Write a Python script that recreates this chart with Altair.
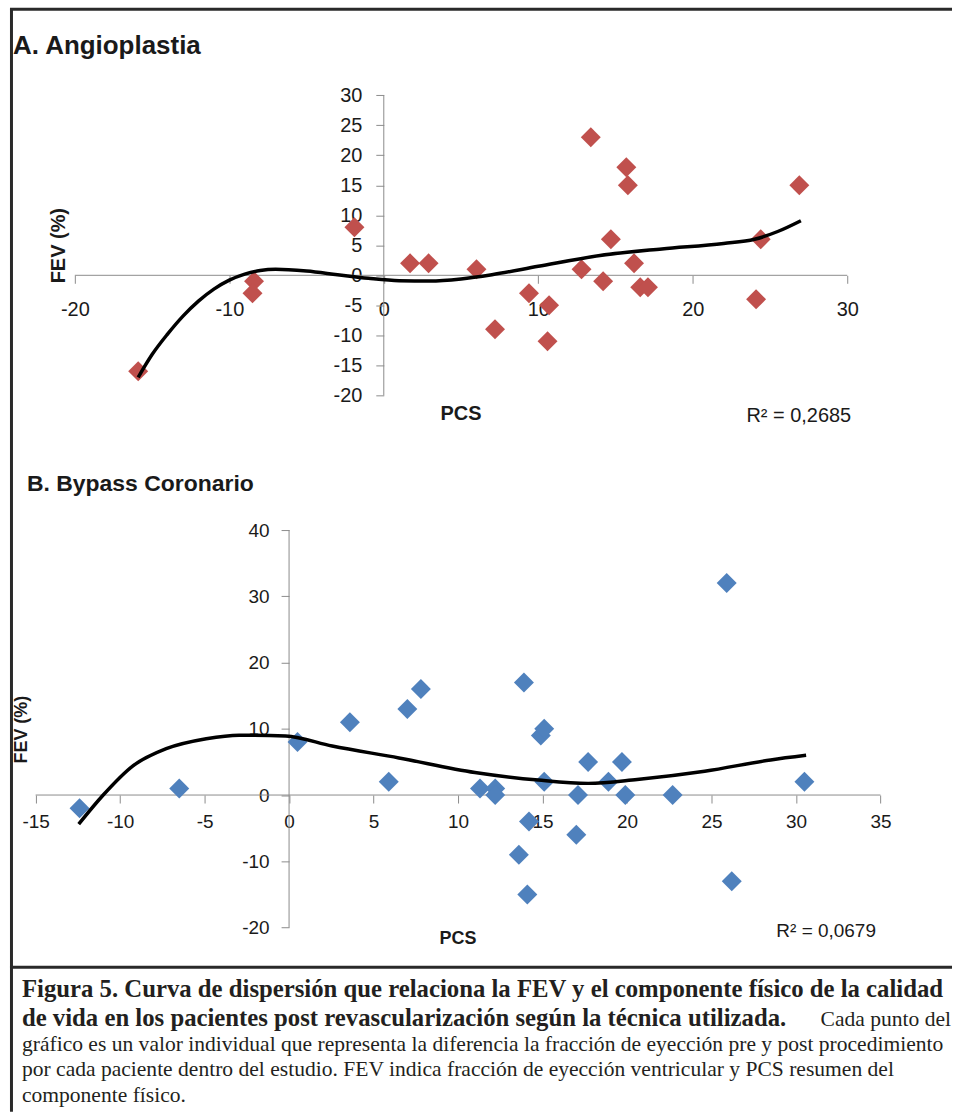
import altair as alt
import pandas as pd

# ---------------- data ----------------
# Panel A: Angioplastia
a_pcs = [-15.9, -8.4, -8.5, -1.9, 1.7, 2.9, 6.0, 7.2, 9.4, 10.7, 10.6, 12.8, 13.4,
         14.2, 14.7, 15.7, 15.8, 16.2, 16.6, 17.1, 24.1, 24.4, 26.9]
a_fev = [-16, -1, -3, 8, 2, 2, 1, -9, -3, -5, -11, 1, 23,
         -1, 6, 18, 15, 2, -2, -2, -4, 6, 15]
# trend line A
a_trend_x = [-15.9, -15.0, -14.0, -13.0, -12.0, -11.0, -10.0, -9.0, -8.0, -7.0,
             -5.0, -3.0, -1.0, 1.0, 3.0, 5.0, 7.0, 10.0, 14.0, 18.0, 22.0, 24.0,
             25.5, 27.0]
a_trend_y = [-17.0, -13.2, -9.8, -6.8, -4.3, -2.3, -0.8, 0.2, 0.8, 1.0,
             0.7, 0.1, -0.5, -0.9, -0.95, -0.6, 0.1, 1.5, 3.3, 4.4, 5.3, 6.0,
             7.3, 9.1]

# Panel B: Bypass Coronario
b_pcs = [-12.4, -6.5, 0.5, 3.6, 5.9, 7.0, 7.8, 11.3, 12.2, 12.2, 13.9, 13.6, 14.2,
         14.1, 14.9, 15.1, 15.1, 17.1, 17.0, 17.7, 18.9, 19.7, 19.9, 22.7, 25.9,
         26.2, 30.5]
b_fev = [-2, 1, 8, 11, 2, 13, 16, 1, 1, 0, 17, -9, -4,
         -15, 9, 10, 2, 0, -6, 5, 2, 5, 0, 0, 32,
         -13, 2]
b_trend_x = [-12.45, -11.0, -9.24, -7.27, -4.9, -2.95, -0.2, 2.55, 6.5, 11.0,
             14.75, 17.7, 20.6, 24.6, 28.5, 30.6]
b_trend_y = [-4.4, 0.0, 4.4, 7.0, 8.5, 9.04, 8.9, 7.4, 5.6, 3.4,
             2.26, 1.76, 2.36, 3.6, 5.3, 6.0]

a_xticks = [-20, -10, 0, 10, 20, 30]
a_yticks = [-20, -15, -10, -5, 0, 5, 10, 15, 20, 25, 30]
b_xticks = [-15, -10, -5, 0, 5, 10, 15, 20, 25, 30, 35]
b_yticks = [-20, -10, 0, 10, 20, 30, 40]

title_a = "A. Angioplastia"
title_b = "B. Bypass Coronario"
r2_a = "R² = 0,2685"
r2_b = "R² = 0,0679"

caption_bold_1 = "Figura 5. Curva de dispersión que relaciona la FEV y el componente físico de la calidad"
caption_bold_2 = "de vida en los pacientes post revascularización según la técnica utilizada."
caption_reg_2 = "Cada punto del"
caption_reg_3 = "gráfico es un valor individual que representa la diferencia la fracción de eyección pre y post procedimiento"
caption_reg_4 = "por cada paciente dentro del estudio. FEV indica fracción de eyección ventricular y PCS resumen del"
caption_reg_5 = "componente físico."

# ---------------- layout ----------------
W = 954
HA, HB, HC = 450, 515, 148
SANS = "Liberation Sans"
SERIF = "Liberation Serif"
AXIS_GRAY = "#8c8c8c"
TXT = "#1a1a1a"


def domain_from(p_lo, v_lo, p_hi, v_hi, total):
    k = (p_hi - p_lo) / (v_hi - v_lo)
    return [v_lo - p_lo / k, v_hi + (total - p_hi) / k], k


def panel(xs, ys, tx, ty, color, xticks, yticks, xpix, ypix, H,
          lab_size, xpad, ypad, title, title_xy, title_size,
          fev_xy, fev_size, pcs_xy, pcs_size, r2, r2_xy, r2_size):
    xdom, kx = domain_from(xpix[0], xticks[0], xpix[1], xticks[-1], W)
    k_y = (ypix[1] - ypix[0]) / (yticks[-1] - yticks[0])
    ydom = [yticks[0] - (H - ypix[1]) / k_y, yticks[-1] + ypix[0] / k_y]
    x0 = xpix[0] + (0 - xticks[0]) * kx
    y0 = ypix[1] - (0 - yticks[0]) * k_y

    xs_ = alt.Scale(domain=xdom, nice=False, zero=False)
    ys_ = alt.Scale(domain=ydom, nice=False, zero=False)

    common = dict(domain=False, grid=False, tickSize=8, tickColor=AXIS_GRAY,
                  labelFont=SANS, labelFontSize=lab_size, labelColor=TXT,
                  labelOverlap=False, labelFlush=False, title=None,
                  labelExpr="'' + datum.value")
    xaxis = alt.Axis(values=xticks, offset=-(H - y0), labelPadding=xpad, **common)
    yaxis = alt.Axis(values=yticks, offset=-x0, labelPadding=ypad, **common)

    pts = pd.DataFrame({"PCS": xs, "FEV": ys})
    trend = pd.DataFrame({"PCS": tx, "FEV": ty})
    xline = pd.DataFrame({"a": [xticks[0]], "b": [xticks[-1]], "y": [0]})
    yline = pd.DataFrame({"x": [0], "a": [yticks[0]], "b": [yticks[-1]]})

    base_pts = alt.Chart(pts).mark_point(shape="diamond", filled=True, size=400,
                                          opacity=1, color=color).encode(
        x=alt.X("PCS:Q", scale=xs_, axis=xaxis),
        y=alt.Y("FEV:Q", scale=ys_, axis=yaxis),
    )
    xr = alt.Chart(xline).mark_rule(color=AXIS_GRAY, strokeWidth=1).encode(
        x=alt.X("a:Q", scale=xs_), x2="b:Q", y=alt.Y("y:Q", scale=ys_))
    yr = alt.Chart(yline).mark_rule(color=AXIS_GRAY, strokeWidth=1).encode(
        x=alt.X("x:Q", scale=xs_), y=alt.Y("a:Q", scale=ys_), y2="b:Q")
    ln = alt.Chart(trend).mark_line(color="black", strokeWidth=3.5,
                                    interpolate="monotone").encode(
        x=alt.X("PCS:Q", scale=xs_), y=alt.Y("FEV:Q", scale=ys_))

    def txt(s, xy, size, bold=True, align="center", angle=0):
        return alt.Chart(pd.DataFrame({"t": [s]})).mark_text(
            font=SANS, fontSize=size, fontWeight="bold" if bold else "normal",
            align=align, baseline="middle", angle=angle, color=TXT).encode(
            text="t:N", x=alt.value(xy[0]), y=alt.value(xy[1]))

    layers = [xr, yr, base_pts, ln,
              txt(title, title_xy, title_size, align="left"),
              txt("FEV (%)", fev_xy, fev_size, angle=270),
              txt("PCS", pcs_xy, pcs_size),
              txt(r2, r2_xy, r2_size, bold=False, align="left")]
    return alt.layer(*layers).properties(width=W, height=H)


panel_a = panel(a_pcs, a_fev, a_trend_x, a_trend_y, "#C0504D",
                a_xticks, a_yticks, (75, 849), (94.3, 395), HA,
                20, 16, 14, title_a, (13, 45), 26,
                (59, 245), 20, (462, 414), 20, r2_a, (748, 416), 20)

panel_b = panel(b_pcs, b_fev, b_trend_x, b_trend_y, "#4F81BD",
                b_xticks, b_yticks, (35.7, 882.3), (80, 478.3), HB,
                19, 10, 12, title_b, (27, 34), 23,
                (22, 280), 18, (459, 490), 18, r2_b, (778, 482), 19)


def crule(x, x2, y, y2, w=3):
    return alt.Chart(pd.DataFrame({"k": [0]})).mark_rule(
        color="#2a2a2a", strokeWidth=w).encode(
        x=alt.value(x), x2=alt.value(x2), y=alt.value(y), y2=alt.value(y2))


def ctext(s, x, y, size, bold, align="left"):
    return alt.Chart(pd.DataFrame({"t": [s]})).mark_text(
        font=SERIF, fontSize=size, fontWeight="bold" if bold else "normal",
        align=align, baseline="alphabetic", color="#231f20").encode(
        text="t:N", x=alt.value(x), y=alt.value(y))


caption = alt.layer(
    crule(11.5, 11.5, -HA - HB + 7, HC),
    crule(10, W, -HA - HB + 8, -HA - HB + 8),
    crule(10, W, 3, 3),
    ctext(caption_bold_1, 22, 33, 24.8, True),
    ctext(caption_bold_2, 22, 62, 24.8, True),
    ctext(caption_reg_2, 953, 62, 21.6, False, align="right"),
    ctext(caption_reg_3, 22, 87, 21.6, False),
    ctext(caption_reg_4, 22, 112, 21.6, False),
    ctext(caption_reg_5, 22, 138, 21.6, False),
).properties(width=W, height=HC)

chart = alt.vconcat(panel_a, panel_b, caption, spacing=0, bounds="flush").properties(
    padding=0, background="white"
).configure_view(stroke=None).configure_concat(spacing=0)

chart.save("out.html", embed_options={"renderer": "svg", "actions": False})
